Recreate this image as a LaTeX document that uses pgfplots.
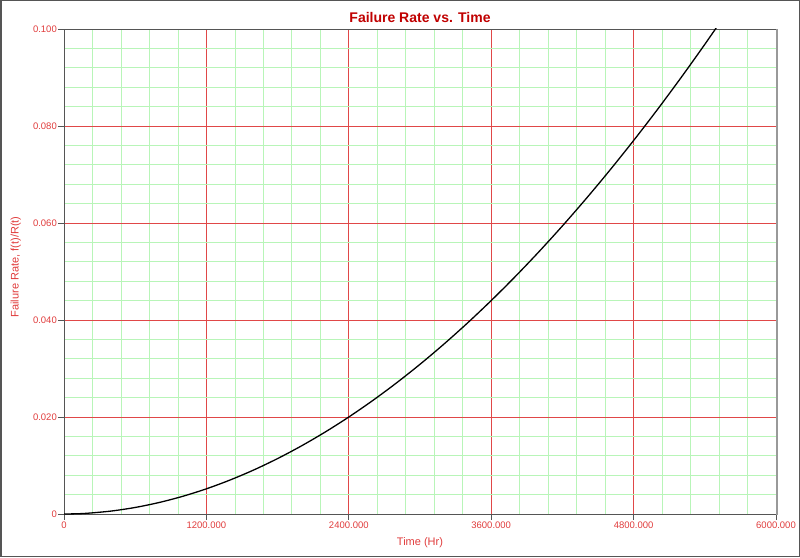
\documentclass[border=0pt]{standalone}
\usepackage{pgfplots}
\pgfplotsset{compat=1.18}
\usepackage{fontspec}
\setmainfont{Liberation Sans}
\definecolor{tickred}{HTML}{E03C3C}
\definecolor{titlered}{HTML}{C00000}
\definecolor{majgrid}{HTML}{E04848}
\definecolor{mingrid}{HTML}{B8F5B8}
\definecolor{axisgray}{HTML}{555555}
\begin{document}
\begin{tikzpicture}[x=1pt,y=1pt]
\draw[draw=axisgray, line width=1.5pt] (0.75,0.75) rectangle (799.25,556.25);
\begin{axis}[
  at={(64pt,43pt)}, anchor=south west, scale only axis,
  width=712pt, height=485pt,
  xmin=0, xmax=6000, ymin=0, ymax=0.1,
  xtick={0,1200,2400,3600,4800,6000},
  xticklabels={0,1200.000,2400.000,3600.000,4800.000,6000.000},
  ytick={0,0.02,0.04,0.06,0.08,0.1},
  yticklabels={0,0.020,0.040,0.060,0.080,0.100},
  minor x tick num=4, minor y tick num=4,
  grid=both,
  major grid style={draw=majgrid, line width=0.8pt},
  minor grid style={draw=mingrid, line width=0.7pt},
  axis line style={draw=axisgray, line width=0.9pt},
  tick align=outside, major tick length=6pt, minor tick length=0pt,
  tick style={draw=axisgray, line width=0.8pt},
  xtick pos=bottom, ytick pos=left,
  tick label style={font=\fontsize{9.5}{10}\selectfont, text=tickred},
  xticklabel style={inner sep=0pt, yshift=-2pt},
  yticklabel style={inner sep=0pt, xshift=-1pt},
  scaled ticks=false,
]
\addplot[black, line width=1.3pt, smooth] coordinates {
(0,0) (100,0.0000413) (200,0.000159) (400,0.000613) (600,0.001349)
(800,0.002361) (1000,0.003643) (1200,0.005194) (1400,0.007011)
(1600,0.009089) (1800,0.011429) (2000,0.014029) (2200,0.016886)
(2400,0.020000) (2600,0.023369) (2800,0.026993) (3000,0.030868)
(3200,0.034997) (3400,0.039376) (3600,0.044007) (3800,0.048888)
(4000,0.054016) (4200,0.059394) (4400,0.065019) (4600,0.070890)
(4800,0.077006) (5000,0.083370) (5200,0.089981) (5400,0.096834)
(5600,0.103933)
};
\end{axis}
\draw[draw=gray!80, line width=1.5pt] (777.2,528) -- (777.2,42);
\node[anchor=base, inner sep=0, font=\bfseries\fontsize{14}{16}\selectfont, text=titlered] at (420,534) {Failure Rate vs. Time};
\node[anchor=base, inner sep=0, font=\fontsize{11}{12}\selectfont, text=tickred] at (420,11.5) {Time (Hr)};
\node[anchor=south, rotate=90, inner sep=0, font=\fontsize{11}{12}\selectfont, text=tickred] at (21,290) {Failure Rate, f(t)/R(t)};
\end{tikzpicture}
\end{document}
